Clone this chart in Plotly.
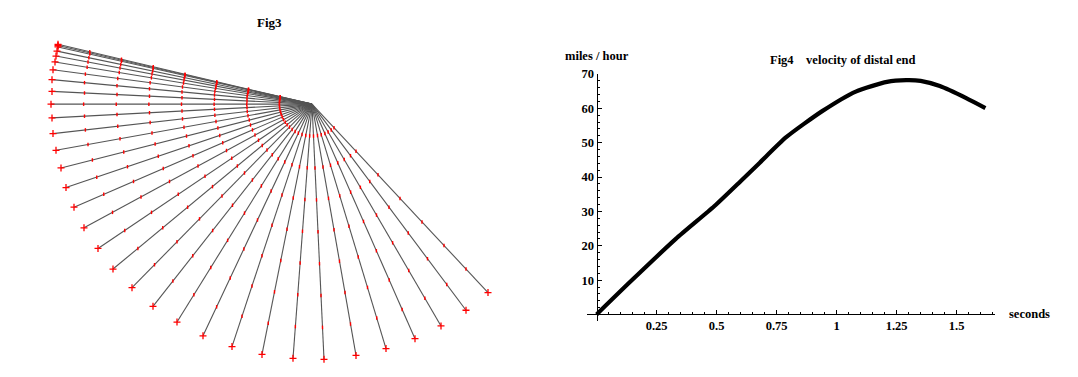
import numpy as np
import plotly.graph_objects as go

# ---------------- Fig3: arm positions (drawing coordinates, y downward) ----------------
pivot_x, pivot_y = 312.0, 99.0
arm_end_x = [58, 58, 58, 57, 56, 55, 53, 52, 52, 51, 52, 53, 56, 61, 66, 74, 84, 98, 113,
             132, 153, 177, 203, 232, 262, 293, 324, 356, 386, 415, 441, 466, 488]
arm_end_y = [38, 39.3, 40.7, 45, 50, 56, 64, 74, 86, 99, 113, 129, 146, 164, 184, 204, 225,
             246, 267, 286, 305, 321, 335, 346, 354, 358, 359, 355, 348, 338, 325, 309, 291]
n_links = 8

# ---------------- Fig4: velocity of distal end ----------------
time_s = [0, 0.14, 0.33, 0.49, 0.60, 0.68, 0.79, 0.94, 1.08, 1.21, 1.29, 1.35, 1.43, 1.54, 1.62]
velocity_mph = [0, 9.5, 22.0, 31.5, 38.8, 44.2, 51.6, 59.2, 64.9, 67.7, 68.2, 68.0, 66.5, 63.0, 60.1]
x_tick_vals = [0.25, 0.5, 0.75, 1, 1.25, 1.5]
x_tick_text = ["0.25", "0.5", "0.75", "1", "1.25", "1.5"]
y_tick_vals = [10, 20, 30, 40, 50, 60, 70]
y_tick_text = ["10", "20", "30", "40", "50", "60", "70"]

W, H = 1078, 377
FONT = "Liberation Serif, Times New Roman, serif"

fig = go.Figure()

# arm lines
lx, ly = [], []
jx, jy = [], []
for ex, ey in zip(arm_end_x, arm_end_y):
    lx += [pivot_x, ex, None]
    ly += [pivot_y, ey, None]
    for k in range(1, n_links):
        f = k / n_links
        jx.append(pivot_x + f * (ex - pivot_x))
        jy.append(pivot_y + f * (ey - pivot_y))

fig.add_trace(go.Scatter(x=lx, y=ly, mode="lines", line=dict(color="#555555", width=1.1),
                         xaxis="x", yaxis="y", hoverinfo="skip", showlegend=False))
fig.add_trace(go.Scatter(x=jx, y=jy, mode="markers",
                         marker=dict(symbol="line-ns", size=2.5, line=dict(color="#ff0000", width=1.4)),
                         xaxis="x", yaxis="y", hoverinfo="skip", showlegend=False))
fig.add_trace(go.Scatter(x=arm_end_x, y=arm_end_y, mode="markers",
                         marker=dict(symbol="cross-thin", size=5, line=dict(color="#ff0000", width=1.3)),
                         xaxis="x", yaxis="y", hoverinfo="skip", showlegend=False))

# velocity curve
fig.add_trace(go.Scatter(x=time_s, y=velocity_mph, mode="lines",
                         line=dict(color="black", width=4.2, shape="spline", smoothing=0.6),
                         xaxis="x2", yaxis="y2", showlegend=False))

x0_px, x1_px = 587.0, 995.0
xr = [-0.04, 1.66]
ytop_px, ybot_px = 68.3, 320.3
yr = [-2, 70]
zero_y_px = ybot_px + (0 - yr[0]) / (yr[1] - yr[0]) * (ytop_px - ybot_px)
zero_x_px = x0_px + (0 - xr[0]) / (xr[1] - xr[0]) * (x1_px - x0_px)

tickfont = dict(family=FONT, size=12.5, color="black", weight="bold")

fig.update_layout(
    width=W, height=H, autosize=False,
    margin=dict(l=0, r=0, t=0, b=0),
    paper_bgcolor="white", plot_bgcolor="rgba(0,0,0,0)",
    xaxis=dict(domain=[0, 539 / W], range=[0, 539], visible=False),
    yaxis=dict(domain=[0, 1], range=[H, 0], visible=False),
    xaxis2=dict(domain=[x0_px / W, x1_px / W], range=xr, anchor="free",
                position=(H - zero_y_px) / H,
                showline=True, linecolor="black", linewidth=1,
                showgrid=False, zeroline=False,
                tickmode="array", tickvals=x_tick_vals, ticktext=x_tick_text,
                ticks="inside", ticklen=4, tickwidth=1, tickcolor="black",
                minor=dict(dtick=0.05, tick0=0, ticks="inside", ticklen=2, tickcolor="black", tickwidth=1, showgrid=False),
                tickfont=tickfont),
    yaxis2=dict(domain=[(H - ybot_px) / H, (H - ytop_px) / H], range=yr, anchor="free",
                position=zero_x_px / W,
                showline=True, linecolor="black", linewidth=1,
                showgrid=False, zeroline=False,
                tickmode="array", tickvals=y_tick_vals, ticktext=y_tick_text,
                ticks="inside", ticklen=4, tickwidth=1, tickcolor="black",
                minor=dict(dtick=2, tick0=0, ticks="inside", ticklen=2, tickcolor="black", tickwidth=1, showgrid=False),
                tickfont=tickfont),
    annotations=[
        dict(text="<b>Fig3</b>", x=269 / W, y=1 - 16 / H, xref="paper", yref="paper",
             showarrow=False, xanchor="center", yanchor="middle", font=dict(family=FONT, size=13, color="black")),
        dict(text="<b>miles / hour</b>", x=596.5 / W, y=1 - 50 / H, xref="paper", yref="paper",
             showarrow=False, xanchor="center", yanchor="middle", font=dict(family=FONT, size=12.5, color="black")),
        dict(text="<b>Fig4\u00a0\u00a0\u00a0\u00a0velocity of distal end</b>", x=768 / W, y=1 - 54 / H,
             xref="paper", yref="paper", showarrow=False, xanchor="left", yanchor="middle",
             font=dict(family=FONT, size=12.5, color="black")),
        dict(text="<b>seconds</b>", x=1007 / W, y=1 - 313 / H, xref="paper", yref="paper",
             showarrow=False, xanchor="left", yanchor="middle", font=dict(family=FONT, size=12.5, color="black")),
    ],
)

fig.write_html("out.html")
